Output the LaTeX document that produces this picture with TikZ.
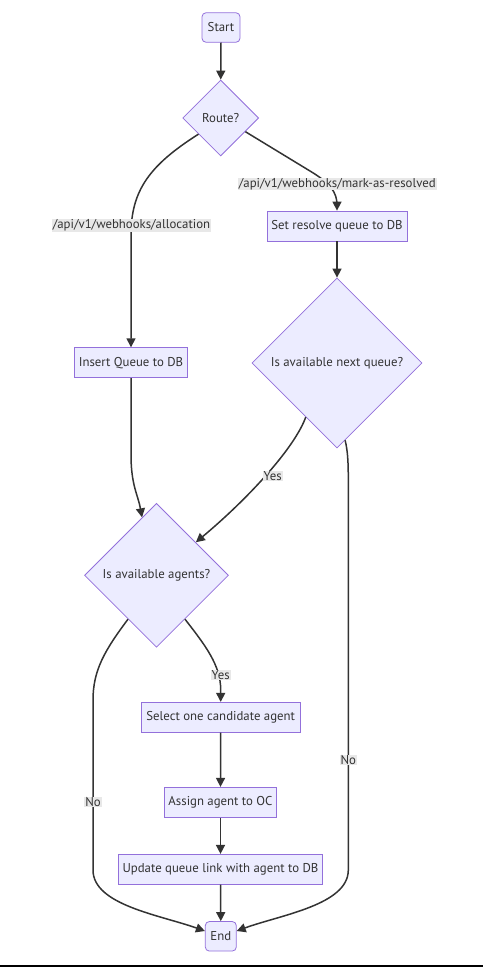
\documentclass[tikz,border=0pt]{standalone}
\usepackage{fontspec}
\setmainfont{PT Sans}
\usetikzlibrary{shapes.geometric,arrows.meta}
\definecolor{nodefill}{HTML}{ECECFF}
\definecolor{nodeline}{HTML}{9370DB}
\definecolor{edgeline}{HTML}{333333}
\definecolor{labelbg}{HTML}{E8E8E8}
\definecolor{txt}{HTML}{333333}

\begin{document}
\begin{tikzpicture}[x=1pt,y=-1pt,
  font=\fontsize{12.8}{14}\selectfont,
  base/.style={draw=nodeline, fill=nodefill, line width=0.8pt, text=txt, inner sep=0pt},
  procbox/.style={base, rectangle, minimum height=30},
  termbox/.style={base, rectangle, rounded corners=4pt, minimum height=29.5},
  decision/.style={base, diamond, aspect=1},
  flow/.style={draw=edgeline, line width=1.5pt, -{Triangle[length=9pt,width=9pt]}},
  elabel/.style={fill=labelbg, text=txt, inner xsep=1pt, inner ysep=0.6pt},
]
\useasboundingbox (0,0) rectangle (483,967);

% nodes
\node[termbox, minimum width=38] (start) at (221,27.5) {Start};
\node[decision, minimum size=76] (route) at (220.7,118) {Route?};
\node[procbox, minimum width=140] (resolve) at (337,226) {Set resolve queue to DB};
\node[procbox, minimum width=113] (insert) at (131,362.7) {Insert Queue to DB};
\node[decision, minimum size=170] (nextq) at (337,363) {Is available next queue?};
\node[decision, minimum size=144] (agents) at (156.5,575.3) {Is available agents?};
\node[procbox, minimum width=158.7] (select) at (220.7,717.3) {Select one candidate agent};
\node[procbox, minimum width=112.4] (assign) at (220.5,802.3) {Assign agent to OC};
\node[procbox, minimum width=204.4] (update) at (220.5,869.3) {Update queue link with agent to DB};
\node[termbox, minimum width=31] (end) at (220.8,936.3) {End};

% connectors
\draw[flow] (start.south) -- (route.north);
\draw[flow] (route.216) .. controls (150,165) and (131,190) .. (131,235) -- (insert.north);
\draw[flow] (route.331) -- (310,171) .. controls (330,183) and (337,192) .. (337,205) -- (resolve.north);
\draw[flow] (resolve.south) -- (nextq.north);
\draw[flow] (insert.south) -- (131,455) .. controls (131,485) and (138,495) .. (agents.104.7);
\draw[flow] (nextq.240.3) .. controls (295,447) and (250,497) .. (agents.40.3);
\draw[flow] (nextq.276) .. controls (347.5,450) and (348.3,460) .. (348.3,480) -- (348.3,870)
  .. controls (348.3,905) and (280,915) .. ([yshift=5.3pt]end.east);
\draw[flow] (agents.237.3) .. controls (105,650) and (93,670) .. (93,700) -- (93,870)
  .. controls (93,905) and (160,915) .. ([yshift=5.3pt]end.west);
\draw[flow] (agents.303) .. controls (205,645) and (220.7,665) .. (220.7,690) -- (select.north);
\draw[flow] (select.south) -- (assign.north);
\draw[flow] (assign.south) -- (update.north);
\draw[flow] (update.south) -- (end.north);

% connector labels
\node[elabel] (lalloc) at (131.5,225.3) {/api/v1/webhooks/allocation};
\node[elabel] (lresolved) at (337.3,184) {/api/v1/webhooks/mark-as-resolved};
\node[elabel] (lyes1) at (272.7,475.7) {Yes};
\node[elabel] (lyes2) at (220.7,675) {Yes};
\node[elabel] (lno1) at (348.3,760) {No};
\node[elabel] (lno2) at (93,802) {No};

% rule along the lower edge
\draw[black, line width=1.6pt] (0,966) -- (483,966);
\end{tikzpicture}
\end{document}
